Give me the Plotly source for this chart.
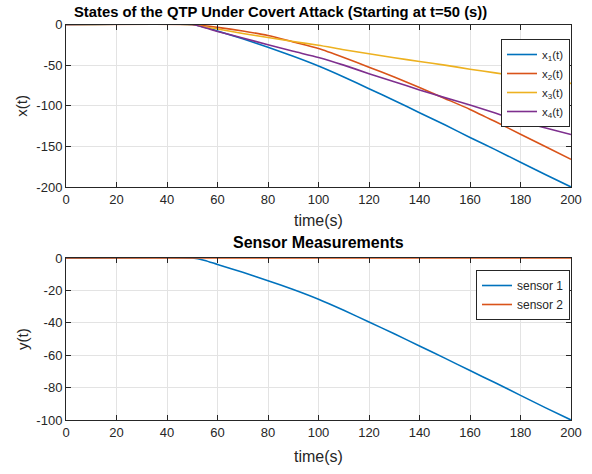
import plotly.graph_objects as go

# ---- data ----
t = [0, 50, 55, 60, 70, 80, 90, 100, 110, 120, 130, 140, 150, 160, 170, 180, 190, 200]
x1 = [0, 0, -3.5, -8, -17.5, -28, -39, -51, -64.5, -79, -93.5, -108.5, -123.5, -139, -154, -169.5, -185, -200]
x2 = [0, 0, -1.5, -3.5, -8, -13.5, -21.5, -29.5, -40.5, -52.5, -64.5, -77.5, -91, -104.5, -119.5, -135, -150.5, -166]
x3 = [0, 0, -3, -5.5, -11, -16, -21, -25.5, -31, -36, -41, -45.5, -50, -55, -59.5, -64, -68.5, -72.5]
x4 = [0, 0, -4, -8.5, -16.5, -25, -33, -40.5, -50, -60.5, -70.5, -80.5, -90, -99, -109, -119, -127.5, -135.5]
sensor1 = [0, 0, -1.5, -4, -8.8, -14, -19.5, -25.5, -32.3, -39.5, -46.8, -54.3, -61.8, -69.5, -77, -84.8, -92.5, -100]
sensor2 = [0] * len(t)

x_ticks = [0, 20, 40, 60, 80, 100, 120, 140, 160, 180, 200]
y1_ticks = [0, -50, -100, -150, -200]
y1_labels = ["0", "-50", "-100", "-150", "-200"]
y2_ticks = [0, -20, -40, -60, -80, -100]
y2_labels = ["0", "-20", "-40", "-60", "-80", "-100"]

top_names = ["x<sub>1</sub>(t)", "x<sub>2</sub>(t)", "x<sub>3</sub>(t)", "x<sub>4</sub>(t)"]
bottom_names = ["sensor 1", "sensor 2"]
colors = ["#0072BD", "#D95319", "#EDB120", "#7E2F8E"]

W, H = 592, 474
FONT = "Liberation Sans, Arial, Helvetica, sans-serif"
TXT = "#262626"

fig = go.Figure()
for ys, name, c in zip([x1, x2, x3, x4], top_names, colors):
    fig.add_trace(go.Scatter(x=t, y=ys, mode="lines", name=name,
                             line=dict(color=c, width=1.6, shape="spline", smoothing=0.6),
                             xaxis="x", yaxis="y", legend="legend"))
for ys, name, c in zip([sensor1, sensor2], bottom_names, colors[:2]):
    fig.add_trace(go.Scatter(x=t, y=ys, mode="lines", name=name,
                             line=dict(color=c, width=1.6, shape="spline", smoothing=0.6),
                             xaxis="x2", yaxis="y2", legend="legend2"))

xl, xr = 66 / W, 571 / W
axis_common = dict(
    showline=True, linecolor=TXT, linewidth=1, mirror="ticks",
    ticks="inside", ticklen=5, tickcolor=TXT, tickwidth=1,
    showgrid=True, gridcolor="#e3e3e3", gridwidth=1,
    zeroline=False, tickfont=dict(family=FONT, size=13, color=TXT),
    automargin=False,
)

fig.update_layout(
    width=W, height=H,
    margin=dict(l=0, r=0, t=0, b=0),
    paper_bgcolor="white", plot_bgcolor="white",
    font=dict(family=FONT, color=TXT),
    xaxis=dict(domain=[xl, xr], range=[0, 200], tickvals=x_ticks, anchor="y", **axis_common),
    yaxis=dict(domain=[1 - 187 / H, 1 - 24.5 / H], range=[-200, 0], tickvals=y1_ticks,
               ticktext=y1_labels, anchor="x", **axis_common),
    xaxis2=dict(domain=[xl, xr], range=[0, 200], tickvals=x_ticks, anchor="y2", **axis_common),
    yaxis2=dict(domain=[1 - 420 / H, 1 - 258 / H], range=[-100, 0], tickvals=y2_ticks,
                ticktext=y2_labels, anchor="x2", **axis_common),
    legend=dict(x=570 / W, y=1 - 39 / H, xanchor="right", yanchor="top",
                bgcolor="white", bordercolor=TXT, borderwidth=1,
                font=dict(family=FONT, size=11.5, color=TXT),
                tracegroupgap=0, itemwidth=30, entrywidth=48, entrywidthmode="pixels"),
    legend2=dict(x=570 / W, y=1 - 270 / H, xanchor="right", yanchor="top",
                 bgcolor="white", bordercolor=TXT, borderwidth=1,
                 font=dict(family=FONT, size=12, color=TXT),
                 tracegroupgap=0, itemwidth=30),
    showlegend=True,
)

ann = [
    dict(text="<b>States of the QTP Under Covert Attack (Starting at t=50 (s))</b>",
         x=280.5 / W, y=1 - 12 / H, size=14.8, color="black"),
    dict(text="<b>Sensor Measurements</b>", x=318 / W, y=1 - 243 / H, size=16, color="black"),
    dict(text="time(s)", x=318 / W, y=1 - 220 / H, size=16, color=TXT),
    dict(text="time(s)", x=318 / W, y=1 - 456 / H, size=16, color=TXT),
]
for a in ann:
    fig.add_annotation(text=a["text"], x=a["x"], y=a["y"], xref="paper", yref="paper",
                       showarrow=False, xanchor="center", yanchor="middle",
                       font=dict(family=FONT, size=a["size"], color=a["color"]))
for label, yc in [("x(t)", (24.5 + 187) / 2), ("y(t)", (258 + 420) / 2)]:
    fig.add_annotation(text=label, x=22 / W, y=1 - yc / H, xref="paper", yref="paper",
                       showarrow=False, textangle=-90, xanchor="center", yanchor="middle",
                       font=dict(family=FONT, size=15, color=TXT))

fig.write_html("out.html", config={"displayModeBar": False},
               post_script="document.body.style.margin='0';")
